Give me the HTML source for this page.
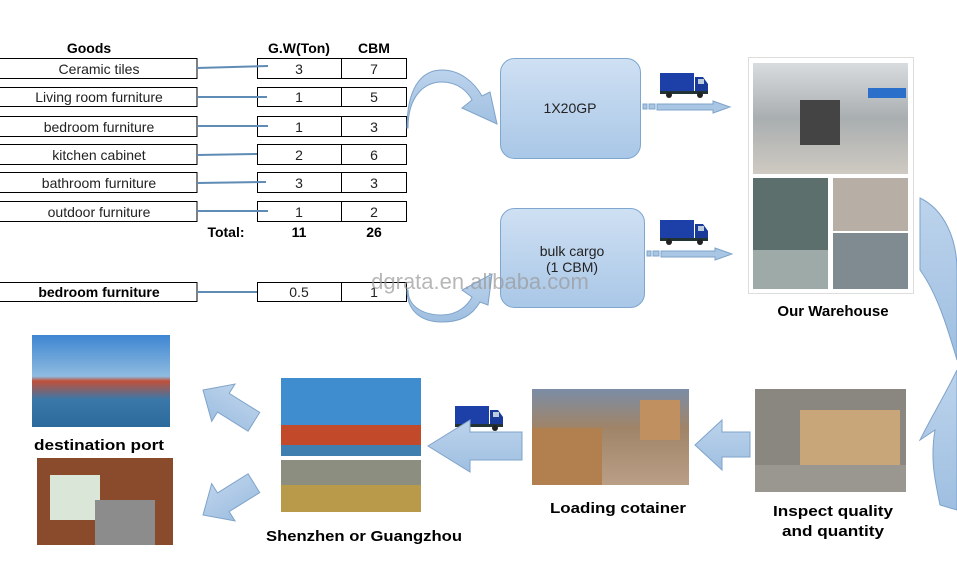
<!DOCTYPE html>
<html><head><meta charset="utf-8"><style>
html,body{margin:0;padding:0;background:#fff;}
svg{display:block;}
text{font-family:"Liberation Sans","DejaVu Sans",sans-serif;}
</style></head><body>
<svg width="957" height="565" viewBox="0 0 957 565" xmlns="http://www.w3.org/2000/svg">
<defs>
<linearGradient id="bx" x1="0" y1="0" x2="0" y2="1"><stop offset="0" stop-color="#cfe0f3"/><stop offset="1" stop-color="#a9c7e7"/></linearGradient>
<linearGradient id="ar" x1="0" y1="0" x2="0" y2="1"><stop offset="0" stop-color="#bcd3ec"/><stop offset="1" stop-color="#9fbfe1"/></linearGradient>
<linearGradient id="sky" x1="0" y1="0" x2="0" y2="1"><stop offset="0" stop-color="#3e86d2"/><stop offset="0.45" stop-color="#8fbbe0"/><stop offset="0.5" stop-color="#c0503a"/><stop offset="0.7" stop-color="#3a78a8"/><stop offset="1" stop-color="#2b6a9c"/></linearGradient>
<linearGradient id="wh" x1="0" y1="0" x2="0" y2="1"><stop offset="0" stop-color="#d9dcde"/><stop offset="0.5" stop-color="#a9aeb0"/><stop offset="1" stop-color="#cfcac2"/></linearGradient>
<linearGradient id="box" x1="0" y1="0" x2="0" y2="1"><stop offset="0" stop-color="#7b8da6"/><stop offset="0.4" stop-color="#a08468"/><stop offset="1" stop-color="#b99f86"/></linearGradient>
<g id="truck"><rect x="0" y="0" width="34" height="18" fill="#1c3fa8"/><path d="M35 4h8l5 7v8h-13z" fill="#1a3a9a"/><rect x="38" y="6" width="6" height="5" fill="#bcd"/><rect x="0" y="18" width="48" height="3" fill="#233"/><circle cx="9" cy="22" r="3" fill="#222"/><circle cx="40" cy="22" r="3" fill="#222"/></g>
<path id="larr" d="M0 0 L24 -22 L24 -11 L60 -11 L60 11 L24 11 L24 22 Z" fill="url(#ar)" stroke="#7fa3c9"/>
</defs>

<!-- table -->
<g font-size="14" fill="#000" text-anchor="middle">
<text x="89" y="53" font-weight="bold">Goods</text>
<text x="299" y="53" font-weight="bold">G.W(Ton)</text>
<text x="374" y="53" font-weight="bold">CBM</text>
</g>
<g stroke="#000" stroke-width="1" fill="#fff">
<rect x="-1" y="58.5" width="198" height="20"/><rect x="-1" y="87.5" width="198" height="19"/><rect x="-1" y="116.5" width="198" height="20"/><rect x="-1" y="144.5" width="198" height="20"/><rect x="-1" y="172.5" width="198" height="20"/><rect x="-1" y="201.5" width="198" height="20"/><rect x="-1" y="282.5" width="198" height="19"/>
<rect x="257.5" y="58.5" width="84" height="20"/><rect x="341.5" y="58.5" width="65" height="20"/>
<rect x="257.5" y="87.5" width="84" height="19"/><rect x="341.5" y="87.5" width="65" height="19"/>
<rect x="257.5" y="116.5" width="84" height="20"/><rect x="341.5" y="116.5" width="65" height="20"/>
<rect x="257.5" y="144.5" width="84" height="20"/><rect x="341.5" y="144.5" width="65" height="20"/>
<rect x="257.5" y="172.5" width="84" height="20"/><rect x="341.5" y="172.5" width="65" height="20"/>
<rect x="257.5" y="201.5" width="84" height="20"/><rect x="341.5" y="201.5" width="65" height="20"/>
<rect x="257.5" y="282.5" width="84" height="19"/><rect x="341.5" y="282.5" width="65" height="19"/>
</g>
<g stroke="#5f8bb5" stroke-width="2">
<line x1="197" y1="68" x2="268" y2="66"/><line x1="197" y1="97" x2="267" y2="97"/><line x1="197" y1="126" x2="268" y2="126"/><line x1="197" y1="155" x2="257" y2="154"/><line x1="197" y1="183" x2="266" y2="182"/><line x1="197" y1="211" x2="268" y2="211"/><line x1="197" y1="292" x2="257" y2="292"/>
</g>
<g font-size="14" fill="#222" text-anchor="middle">
<text x="99" y="74">Ceramic tiles</text>
<text x="99" y="102">Living room furniture</text>
<text x="99" y="132">bedroom furniture</text>
<text x="99" y="160">kitchen cabinet</text>
<text x="99" y="188">bathroom furniture</text>
<text x="99" y="217">outdoor furniture</text>
<text x="99" y="297" font-weight="bold" fill="#000">bedroom furniture</text>
<text x="299" y="74">3</text><text x="374" y="74">7</text>
<text x="299" y="102">1</text><text x="374" y="102">5</text>
<text x="299" y="132">1</text><text x="374" y="132">3</text>
<text x="299" y="160">2</text><text x="374" y="160">6</text>
<text x="299" y="188">3</text><text x="374" y="188">3</text>
<text x="299" y="217">1</text><text x="374" y="217">2</text>
<text x="299" y="297">0.5</text><text x="374" y="297">1</text>
<g font-weight="bold" fill="#000"><text x="226" y="237">Total:</text><text x="299" y="237">11</text><text x="374" y="237">26</text></g>
</g>

<!-- curved arrows -->
<path d="M408 128 C408 95 425 82 442 82 C458 82 468 92 472 100 L462 108 L497 124 L490 92 L482 96 C474 82 460 70 442 70 C420 70 407 90 407 128 Z" fill="url(#ar)" stroke="#7fa3c9"/>
<path d="M408 290 C408 308 425 315 442 315 C458 315 468 305 472 297 L462 290 L492 274 L488 305 L480 302 C472 316 460 322 442 322 C420 322 407 310 407 290 Z" fill="url(#ar)" stroke="#7fa3c9"/>

<!-- boxes -->
<rect x="500.5" y="58.5" width="140" height="100" rx="14" fill="url(#bx)" stroke="#7ea6cf"/>
<text x="570" y="113" font-size="14" text-anchor="middle" fill="#222">1X20GP</text>
<rect x="500.5" y="208.5" width="144" height="99" rx="14" fill="url(#bx)" stroke="#7ea6cf"/>
<text x="572" y="256" font-size="14" text-anchor="middle" fill="#222">bulk cargo</text>
<text x="572" y="272" font-size="14" text-anchor="middle" fill="#222">(1 CBM)</text>
<text x="480" y="289" font-size="22" text-anchor="middle" fill="#999" opacity="0.7">dgrata.en.alibaba.com</text>

<!-- trucks & arrows -->
<use href="#truck" x="660" y="73"/>
<use href="#truck" x="660" y="220"/>
<path d="M643 104h4v5h-4zM649 104h6v5h-6zM657 104h56v-3l17 6-17 6v-3h-56z" fill="#a9c6e4" stroke="#7fa3c9"/>
<path d="M647 251h4v5h-4zM653 251h6v5h-6zM661 251h54v-3l17 6-17 6v-3h-54z" fill="#a9c6e4" stroke="#7fa3c9"/>

<!-- warehouse -->
<rect x="748.5" y="57.5" width="165" height="236" fill="#fff" stroke="#ddd"/>
<rect x="753" y="63" width="155" height="111" fill="url(#wh)"/>
<rect x="800" y="100" width="40" height="45" fill="#444"/>
<rect x="868" y="88" width="38" height="10" fill="#2a6fc9"/>
<rect x="753" y="178" width="75" height="111" fill="#5d6f6d"/>
<rect x="753" y="250" width="75" height="39" fill="#9eaaa8"/>
<rect x="833" y="178" width="75" height="53" fill="#b7aea5"/>
<rect x="833" y="233" width="75" height="56" fill="#7f8b90"/>
<text x="833" y="316" font-size="15" font-weight="bold" text-anchor="middle" fill="#000">Our Warehouse</text>

<!-- right big arrow -->
<path d="M920 198 C945 210 957 240 957 270 L957 360 C948 330 938 295 920 270 Z" fill="url(#ar)" stroke="#7fa3c9"/>
<path d="M957 370 L957 510 L940 505 C935 480 930 460 935 430 L920 440 C935 410 945 395 957 370 Z" fill="url(#ar)" stroke="#7fa3c9"/>

<!-- bottom photos -->
<rect x="32" y="335" width="138" height="92" fill="url(#sky)"/>
<text x="99" y="450" font-size="15" font-weight="bold" text-anchor="middle" fill="#000" textLength="130" lengthAdjust="spacingAndGlyphs">destination port</text>
<rect x="37" y="458" width="136" height="87" fill="#8a4a2c"/>
<rect x="50" y="475" width="50" height="45" fill="#d9e6d8"/>
<rect x="95" y="500" width="60" height="45" fill="#8c8c8c"/>
<use href="#larr" transform="translate(203,390) rotate(32)"/>
<use href="#larr" transform="translate(203,515) rotate(-32)"/>

<rect x="281" y="378" width="140" height="78" fill="#3f8ccf"/>
<rect x="281" y="425" width="140" height="20" fill="#c24a2a"/>
<rect x="281" y="445" width="140" height="11" fill="#3f7fb0"/>
<rect x="281" y="460" width="140" height="52" fill="#8c8f80"/>
<rect x="281" y="485" width="140" height="27" fill="#b89a4a"/>
<text x="364" y="541" font-size="15" font-weight="bold" text-anchor="middle" fill="#000" textLength="196" lengthAdjust="spacingAndGlyphs">Shenzhen or Guangzhou</text>

<use href="#truck" x="455" y="406"/>
<path d="M522 432 L522 460 L470 460 L470 472 L428 446 L470 420 L470 432 Z" fill="url(#ar)" stroke="#7fa3c9"/>

<rect x="532" y="389" width="157" height="96" fill="url(#box)"/>
<rect x="532" y="428" width="70" height="57" fill="#b27f4e"/>
<rect x="640" y="400" width="40" height="40" fill="#c09060"/>
<text x="618" y="513" font-size="15" font-weight="bold" text-anchor="middle" fill="#000" textLength="136" lengthAdjust="spacingAndGlyphs">Loading cotainer</text>

<path d="M750 432 L750 457 L722 457 L722 470 L695 445 L722 420 L722 432 Z" fill="url(#ar)" stroke="#7fa3c9"/>

<rect x="755" y="389" width="151" height="103" fill="#8a8680"/>
<rect x="800" y="410" width="100" height="60" fill="#c9a57a"/>
<rect x="755" y="465" width="151" height="27" fill="#9a9690"/>
<text x="833" y="516" font-size="15" font-weight="bold" text-anchor="middle" fill="#000" textLength="120" lengthAdjust="spacingAndGlyphs">Inspect quality</text>
<text x="833" y="536" font-size="15" font-weight="bold" text-anchor="middle" fill="#000" textLength="102" lengthAdjust="spacingAndGlyphs">and quantity</text>
</svg>
</body></html>
